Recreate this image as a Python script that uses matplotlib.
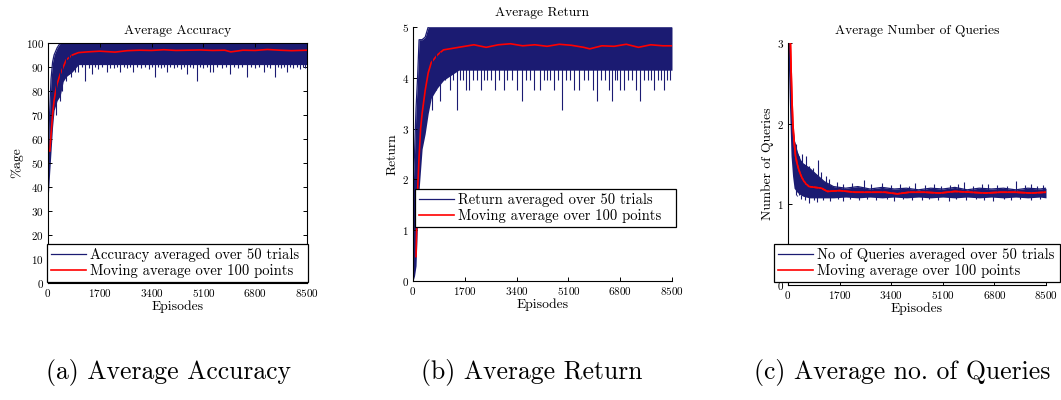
import matplotlib.pyplot as plt

plt.rcParams['font.family'] = 'cmr10'
plt.rcParams['axes.formatter.use_mathtext'] = True
plt.rcParams['mathtext.fontset'] = 'cm'

navy = '#1b1b72'
red = '#ff0000'
x_ticks = [0, 1700, 3400, 5100, 6800, 8500]

# (a) accuracy: band of the 50-trial average (upper / lower edge), downward spikes, moving average
acc_ep = [0, 50, 100, 150, 200, 300, 400, 500, 600, 800, 1000, 8500]
acc_hi = [50, 70, 85, 92, 95, 98, 100, 100, 100, 100, 100, 100]
acc_lo = [34, 45, 55, 65, 72, 76, 78, 84, 86, 88, 91, 91]
acc_spike_ep = [260, 380, 450, 600, 700, 770, 880, 1000, 1100, 1210, 1330, 1430, 1540, 1650,
                1780, 1920, 2040, 2150, 2260, 2360, 2480, 2600, 2700, 2800, 2920, 3050,
                3180, 3300, 3400, 3510, 3600, 3700, 3800, 3900, 4020, 4150, 4250, 4350,
                4450, 4550, 4650, 4760, 4880, 4990, 5100, 5220, 5330, 5430, 5560, 5700,
                5840, 5980, 6100, 6250, 6380, 6530, 6660, 6800, 6940, 7080, 7190, 7300,
                7460, 7560, 7650, 7750, 7840, 7950, 8050, 8160, 8280, 8370, 8450]
acc_spike_val = [70, 76, 80, 84, 87, 86, 88, 88, 90, 84, 89.5, 87, 90, 89,
                 90, 88, 89.5, 89.5, 90, 88, 90, 89.5, 90, 88, 90, 89.5,
                 90, 89, 90, 86, 90, 89.5, 90, 88, 90, 89.5, 90, 89,
                 90, 87, 90, 89.5, 84, 90, 89.5, 90, 88, 88, 90, 89.5,
                 90, 87, 90, 89.5, 90, 86, 90, 89.5, 90, 88, 90, 89.5,
                 86, 90, 89.5, 90, 88, 90, 89.5, 90, 89, 90, 89.5]
acc_ma_ep = [60, 100, 150, 200, 250, 300, 400, 500, 600, 800, 1000, 1300, 1700, 2200, 2600,
             3000, 3400, 3800, 4200, 4600, 5000, 5400, 5800, 6000, 6400, 6800, 7200, 7600,
             8000, 8500]
acc_ma = [55, 62, 70, 76, 80, 83, 87, 90, 93, 95, 96, 96.3, 96.6, 96.2, 96.8,
          97, 96.9, 97.2, 96.9, 97, 97.1, 96.9, 97, 96.3, 97, 96.9, 97.3, 97,
          96.8, 97]

# (b) return
ret_ep = [0, 50, 100, 150, 200, 300, 400, 500, 600, 800, 1000, 1500, 8500]
ret_hi = [1.8, 2.5, 3.4, 4.0, 4.75, 4.75, 4.8, 5, 5, 5, 5, 5, 5]
ret_lo = [0, 0.1, 0.3, 1.2, 1.8, 2.6, 2.9, 3.3, 3.6, 3.8, 3.95, 4.15, 4.15]
ret_spike_ep = [620, 760, 900, 1050, 1200, 1320, 1440, 1550, 1650, 1750, 1830, 1960, 2100,
                2230, 2330, 2430, 2560, 2700, 2820, 2980, 3100, 3250, 3400, 3580, 3700,
                3850, 3980, 4180, 4300, 4400, 4500, 4640, 4760, 4890, 5020, 5150, 5300,
                5440, 5600, 5750, 5900, 6040, 6170, 6300, 6420, 6530, 6620, 6700, 6800,
                6910, 7050, 7200, 7330, 7460, 7580, 7700, 7800, 7900, 8030, 8150, 8250,
                8340, 8430]
ret_spike_val = [3.37, 3.75, 3.55, 3.95, 3.75, 3.95, 3.37, 3.95, 3.95, 3.75, 3.75, 3.95, 3.95,
                 3.75, 3.95, 3.95, 3.95, 3.75, 3.95, 3.75, 3.95, 3.95, 3.75, 3.55, 3.95,
                 3.95, 3.75, 3.75, 3.95, 3.95, 3.95, 3.75, 3.95, 3.37, 3.95, 3.95, 3.75,
                 3.75, 3.95, 3.95, 3.75, 3.55, 3.95, 3.95, 3.75, 3.55, 3.95, 3.95, 3.75,
                 3.75, 3.95, 3.95, 3.75, 3.55, 3.95, 3.95, 3.95, 3.75, 3.95, 3.95, 3.75,
                 3.95, 3.95]
ret_ma_ep = [100, 130, 160, 200, 250, 300, 400, 500, 600, 800, 1000, 1300, 1700, 2000, 2400,
             2800, 3200, 3600, 4000, 4400, 4800, 5200, 5600, 5800, 6200, 6600, 7000, 7400,
             7800, 8200, 8500]
ret_ma = [0.48, 1.3, 1.9, 2.45, 3.0, 3.3, 3.75, 4.1, 4.3, 4.45, 4.55, 4.58, 4.62, 4.65, 4.6,
          4.65, 4.67, 4.63, 4.65, 4.62, 4.66, 4.64, 4.6, 4.57, 4.63, 4.62, 4.66, 4.6,
          4.65, 4.63, 4.63]

# (c) number of queries
q_ep = [0, 50, 100, 150, 200, 300, 400, 500, 700, 900, 1200, 1500, 1900, 2300, 2700, 3100,
        3500, 3900, 4300, 4700, 5100, 5500, 5900, 6300, 6700, 7100, 7500, 7900, 8300, 8500]
q_hi = [3.0, 3.0, 2.4, 2.0, 1.8, 1.65, 1.55, 1.5, 1.45, 1.38, 1.28, 1.22, 1.2, 1.22, 1.19,
        1.21, 1.19, 1.2, 1.18, 1.2, 1.19, 1.21, 1.18, 1.2, 1.19, 1.2, 1.18, 1.2, 1.19, 1.2]
q_lo = [2.9, 2.2, 1.6, 1.35, 1.2, 1.15, 1.12, 1.1, 1.08, 1.08, 1.08, 1.08, 1.09, 1.08, 1.09,
        1.08, 1.09, 1.08, 1.09, 1.08, 1.09, 1.08, 1.09, 1.08, 1.09, 1.08, 1.09, 1.08, 1.09, 1.08]
q_up_ep = [250, 350, 450, 520, 600, 700, 820, 1000, 1100, 1250, 1350, 1600, 1800, 2100, 2500,
           2750, 3100, 3400, 3700, 4000, 4200, 4500, 4800, 5050, 5350, 5600, 5800, 6100, 6400,
           6600, 6900, 7200, 7500, 7800, 8000, 8200, 8400]
q_up_val = [1.75, 1.6, 1.62, 1.5, 1.6, 1.48, 1.45, 1.55, 1.4, 1.35, 1.32, 1.28, 1.25, 1.26, 1.3,
            1.25, 1.26, 1.24, 1.25, 1.23, 1.27, 1.24, 1.25, 1.23, 1.24, 1.25, 1.28, 1.23, 1.25,
            1.25, 1.24, 1.23, 1.29, 1.24, 1.25, 1.23, 1.24]
q_dn_ep = [300, 420, 550, 700, 850, 950, 1150, 1400, 1650, 1800, 2050, 2350, 2600, 2900, 3250,
           3500, 3800, 4100, 4400, 4650, 4950, 5300, 5550, 5850, 6200, 6450, 6750, 7100, 7350,
           7650, 8000, 8300]
q_dn_val = [1.1, 1.06, 1.05, 1.02, 1.05, 1.03, 1.05, 1.04, 1.06, 1.04, 1.06, 1.05, 1.06, 1.05,
            1.06, 1.04, 1.06, 1.05, 1.05, 1.06, 1.05, 1.04, 1.06, 1.05, 1.06, 1.05, 1.04, 1.06,
            1.05, 1.06, 1.05, 1.06]
q_ma_ep = [80, 100, 130, 160, 200, 250, 300, 400, 500, 600, 700, 900, 1100, 1300, 1700, 2200,
           2700, 3200, 3600, 4000, 4500, 5000, 5500, 6000, 6500, 7000, 7500, 8000, 8500]
q_ma = [3.0, 2.7, 2.3, 2.0, 1.78, 1.6, 1.5, 1.38, 1.3, 1.25, 1.22, 1.21, 1.2, 1.16, 1.17,
        1.15, 1.15, 1.15, 1.13, 1.15, 1.15, 1.14, 1.16, 1.15, 1.14, 1.15, 1.15, 1.14, 1.15]


def panel(ax, ep, hi, lo, ma_ep, ma, title, ylabel, blue_label, box, pad=6.5):
    ax.fill_between(ep, lo, hi, color=navy, lw=0)
    ax.plot(ep, hi, color=navy, lw=0.9, label=blue_label)
    ax.plot(ma_ep, ma, color=red, lw=1.2, label='Moving average over 100 points')
    ax.set_xlim(0, 8500)
    ax.set_xticks(x_ticks)
    ax.set_title(title, fontsize=9.7, pad=pad)
    ax.set_xlabel('Episodes', fontsize=9.8, labelpad=1)
    ax.set_ylabel(ylabel, fontsize=9.8, labelpad=2)
    ax.tick_params(direction='in', labelsize=8, length=3, width=0.7, pad=3,
                   top=box, right=box)
    for s in ax.spines.values():
        s.set_linewidth(0.8)
    if not box:
        ax.spines['top'].set_visible(False)
        ax.spines['right'].set_visible(False)


def legend(ax, bbox):
    leg = ax.legend(loc='lower left', bbox_to_anchor=bbox, mode='expand', fontsize=10.5,
                    handlelength=2.4, handletextpad=0.3, borderpad=0.25, labelspacing=0.15,
                    borderaxespad=0, fancybox=False, framealpha=1)
    leg.get_frame().set_edgecolor('black')
    leg.get_frame().set_linewidth(0.9)


fig = plt.figure(figsize=(10.61, 4.0), dpi=100)

ax1 = fig.add_axes([0.04524, 0.2925, 0.24411, 0.6])
panel(ax1, acc_ep, acc_hi, acc_lo, acc_ma_ep, acc_ma, 'Average Accuracy', '%age',
      'Accuracy averaged over 50 trials', True)
ax1.vlines(acc_spike_ep, acc_spike_val, 95, color=navy, lw=0.8)
ax1.set_ylim(0, 100)
ax1.set_yticks(range(0, 101, 10))
legend(ax1, (-0.004, 0.004, 1.008, 0.17))

ax2 = fig.add_axes([0.38925, 0.2975, 0.24411, 0.635])
panel(ax2, ret_ep, ret_hi, ret_lo, ret_ma_ep, ret_ma, 'Average Return', 'Return',
      'Return averaged over 50 trials', False, pad=8)
ax2.vlines(ret_spike_ep, ret_spike_val, 4.5, color=navy, lw=0.8)
ax2.set_ylim(0, 5)
ax2.set_yticks(range(0, 6))
legend(ax2, (0.008, 0.213, 1.007, 0.173))

ax3 = fig.add_axes([0.74270, 0.2875, 0.24317, 0.605])
panel(ax3, q_ep, q_hi, q_lo, q_ma_ep, q_ma, 'Average Number of Queries', 'Number of Queries',
      'No of Queries averaged over 50 trials', False)
ax3.vlines(q_up_ep, 1.12, q_up_val, color=navy, lw=0.8)
ax3.vlines(q_dn_ep, q_dn_val, 1.12, color=navy, lw=0.8)
ax3.plot(q_ma_ep, q_ma, color=red, lw=1.2)
ax3.set_ylim(0, 3)
ax3.set_yticks(range(0, 4))
legend(ax3, (-0.054, 0.012, 1.108, 0.166))

fig.text(169 / 1061, 1 - 372 / 400, '(a) Average Accuracy', ha='center', va='center', fontsize=18.5)
fig.text(532 / 1061, 1 - 372 / 400, '(b) Average Return', ha='center', va='center', fontsize=18.5)
fig.text(754 / 1061, 1 - 372 / 400, '(c) Average no. of Queries', ha='left', va='center', fontsize=18.5)

fig.savefig('out.png', dpi=100)
